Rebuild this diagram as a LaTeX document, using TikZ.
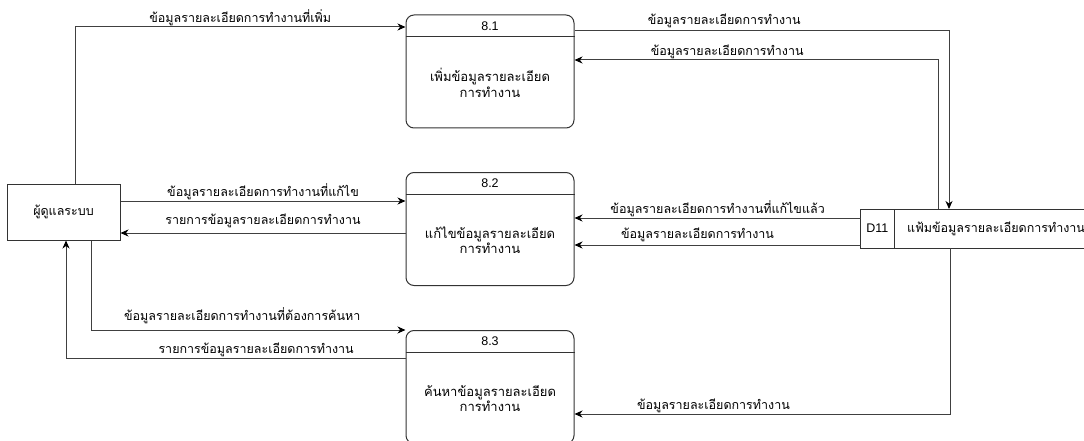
\documentclass[tikz,border=0pt]{standalone}
\usepackage{fontspec}
\setmainfont{Liberation Sans}
\newfontfamily\thaifont[Script=Thai]{Loma}
\usetikzlibrary{positioning,arrows.meta}

\begin{document}
\begin{tikzpicture}[x=1pt,y=-1pt,
      line width=1pt,
      every node/.style={font=\thaifont\fontsize{12.5}{14}\selectfont},
      flow/.style={draw=black!75,-{Stealth[length=8pt,width=7pt,inset=2.5pt,black]}},
      flowlabel/.style={above,inner sep=1pt,fill=white},
      entitybox/.style={draw=black!80,minimum width=113pt,minimum height=56pt},
      procbox/.style={draw=black!80,rounded corners=8pt,minimum width=168pt,minimum height=113pt},
      procnum/.style={font=\fontsize{12.5}{14}\selectfont},
      procname/.style={align=center,font=\thaifont\fontsize{13}{15.5}\selectfont},
      storebox/.style={draw=black!80,outer sep=0pt,minimum height=39pt}]

      \useasboundingbox (0,0) rectangle (1084,441);

      % external entity
      \node[entitybox] (admin) at (63.5,212) {ผู้ดูแลระบบ};

      % processes 8.1 - 8.3
      \foreach \n/\yc/\what in {1/71.5/{เพิ่มข้อมูลรายละเอียด\\การทำงาน},
                                 2/229/{แก้ไขข้อมูลรายละเอียด\\การทำงาน},
                                 3/387/{ค้นหาข้อมูลรายละเอียด\\การทำงาน}} {
        \node[procbox] (proc-8\n) at (490,\yc) {};
        \node[procnum] (num-8\n) at ([yshift=-11.3pt]proc-8\n.north) {8.\n};
        \draw[draw=black!80] ([yshift=-22.3pt]proc-8\n.north west)
          -- ([yshift=-22.3pt]proc-8\n.north east);
        \node[procname] (name-8\n) at ([yshift=-11.3pt]proc-8\n.center) {\what};
      }

      % data store
      \node[storebox,minimum width=33.3pt,font=\fontsize{12.5}{14}\selectfont]
        (store-id) at (877.35,228.5) {D11};
      \node[storebox,minimum width=204pt,right=0pt of store-id] (store)
        {แฟ้มข้อมูลรายละเอียดการทำงาน};

      % flows
      \draw[flow] ([xshift=11.5pt]admin.north) |- ([yshift=44.5pt]proc-81.west)
        node[flowlabel,pos=0.75] {ข้อมูลรายละเอียดการทำงานที่เพิ่ม};
      \draw[flow] ([yshift=40.5pt]proc-81.east) -| ([xshift=-47pt]store.north)
        node[flowlabel,pos=0.2,yshift=2pt] {ข้อมูลรายละเอียดการทำงาน};
      \draw[flow] ([xshift=-58pt]store.north) |- ([yshift=11.5pt]proc-81.east)
        node[flowlabel,pos=0.79] {ข้อมูลรายละเอียดการทำงาน};
      \draw[flow] ([yshift=11pt]admin.east) -- ([yshift=28pt]proc-82.west)
        node[flowlabel,midway] {ข้อมูลรายละเอียดการทำงานที่แก้ไข};
      \draw[flow] ([yshift=-4pt]proc-82.west) -- ([yshift=-21pt]admin.east)
        node[flowlabel,midway,yshift=4pt] {รายการข้อมูลรายละเอียดการทำงาน};
      \draw[flow] ([xshift=28pt]admin.south) |- ([yshift=57pt]proc-83.west)
        node[flowlabel,pos=0.74,yshift=5pt] {ข้อมูลรายละเอียดการทำงานที่ต้องการค้นหา};
      \draw[flow] ([yshift=29pt]proc-83.west) -| ([xshift=2.5pt]admin.south)
        node[flowlabel,pos=0.22] {รายการข้อมูลรายละเอียดการทำงาน};
      \draw[flow] ([yshift=10.5pt]store-id.west) -- ([yshift=11pt]proc-82.east)
        node[flowlabel,midway] {ข้อมูลรายละเอียดการทำงานที่แก้ไขแล้ว};
      \draw[flow] ([yshift=-16.5pt]store-id.west) -- ([yshift=-16pt]proc-82.east)
        node[flowlabel,pos=0.57,yshift=2pt] {ข้อมูลรายละเอียดการทำงาน};
      \draw[flow] ([xshift=-46pt]store.south) |- ([yshift=-27pt]proc-83.east)
        node[flowlabel,pos=0.815] {ข้อมูลรายละเอียดการทำงาน};
\end{tikzpicture}
\end{document}
